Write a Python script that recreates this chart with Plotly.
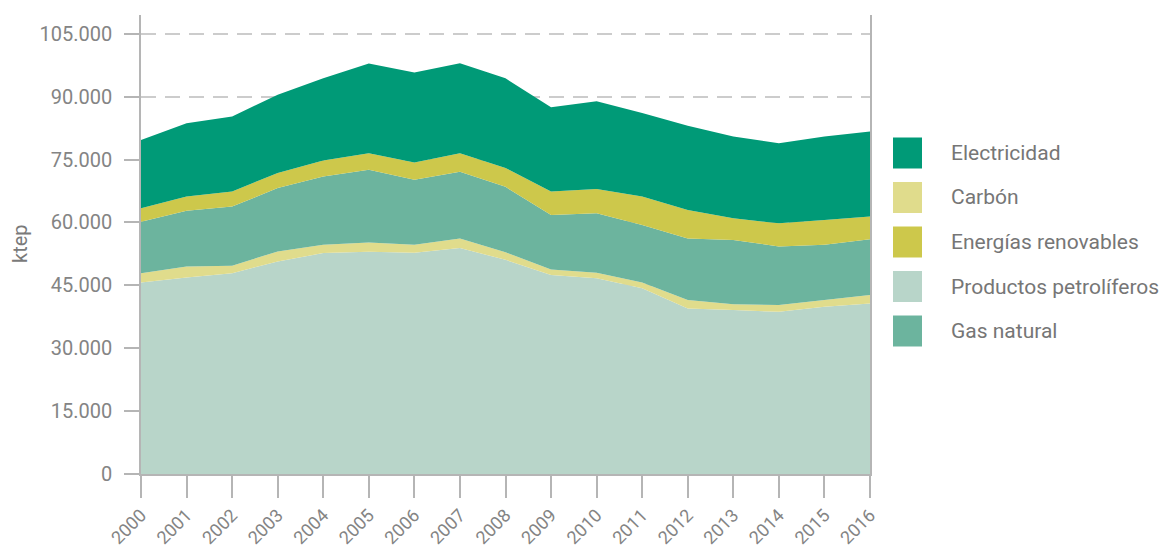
import plotly.graph_objects as go

years = list(range(2000, 2017))
petroliferos = [45700, 46900, 47900, 50700, 52700, 53000, 52800, 53900, 51100, 47500, 46700, 44300, 39500, 39100, 38700, 39900, 40700]
carbon = [2200, 2600, 1800, 2400, 2000, 2200, 1900, 2300, 1800, 1300, 1300, 1400, 2000, 1400, 1600, 1600, 2000]
gas_natural = [12300, 13300, 14100, 15100, 16300, 17400, 15500, 15900, 15600, 13000, 14200, 13700, 14700, 15300, 14000, 13200, 13300]
renovables = [3200, 3400, 3600, 3600, 3800, 3900, 4100, 4400, 4500, 5600, 5800, 6800, 6800, 5200, 5500, 5900, 5400]
electricidad = [16300, 17500, 17900, 18700, 19600, 21400, 21500, 21500, 21400, 20100, 20900, 19900, 20100, 19500, 19100, 19900, 20300]

y_ticks = [0, 15000, 30000, 45000, 60000, 75000, 90000, 105000]
y_tick_labels = ["0", "15.000", "30.000", "45.000", "60.000", "75.000", "90.000", "105.000"]

colors = {
    "Electricidad": "#009a77",
    "Carbón": "#e0dc8c",
    "Energías renovables": "#cdc84b",
    "Productos petrolíferos": "#b8d5c9",
    "Gas natural": "#6cb49e",
}

stack_order = [
    ("Productos petrolíferos", petroliferos),
    ("Carbón", carbon),
    ("Gas natural", gas_natural),
    ("Energías renovables", renovables),
    ("Electricidad", electricidad),
]
legend_order = ["Electricidad", "Carbón", "Energías renovables", "Productos petrolíferos", "Gas natural"]

FONT = "Roboto"
W, H = 1168, 557
L, R, T, B = 141, 870, 15, 474

fig = go.Figure()
for name, vals in stack_order:
    fig.add_trace(go.Scatter(
        x=years, y=vals, name=name, stackgroup="one", mode="none",
        fillcolor=colors[name], showlegend=False, hoverinfo="x+y+name",
    ))

def px_x(px):
    return (px - L) / (R - L)

def px_y(py):
    return (B - py) / (B - T)

shapes = []
annotations = []
row_centers = [153, 197.5, 242, 286.5, 331]
for name, cy in zip(legend_order, row_centers):
    shapes.append(dict(type="rect", xref="paper", yref="paper",
                       x0=px_x(893), x1=px_x(922), y0=px_y(cy - 15.5), y1=px_y(cy + 15.5),
                       fillcolor=colors[name], line=dict(width=0)))
    annotations.append(dict(xref="paper", yref="paper", x=px_x(949), y=px_y(cy),
                            text=name, showarrow=False, xanchor="left", yanchor="middle",
                            font=dict(family=FONT, size=21, color="#767676")))

annotations.append(dict(xref="paper", yref="paper", x=px_x(20), y=px_y(243),
                        text="ktep", showarrow=False, textangle=-90,
                        xanchor="center", yanchor="middle",
                        font=dict(family=FONT, size=20, color="#7a7a7a")))

fig.update_layout(
    width=W, height=H,
    margin=dict(l=L, r=W - R, t=T, b=H - B, pad=0, autoexpand=False),
    paper_bgcolor="white", plot_bgcolor="white",
    showlegend=False,
    shapes=shapes, annotations=annotations,
    xaxis=dict(
        range=[2000, 2016], tickmode="array", tickvals=years,
        ticktext=[str(y) for y in years], tickangle=-45,
        ticks="outside", ticklen=22, tickcolor="#b5b5b5", tickwidth=1.5,
        showline=True, linecolor="#b5b5b5", linewidth=1.5,
        showgrid=False, zeroline=False, ticklabelstandoff=0, automargin=False,
        tickfont=dict(family=FONT, size=18, color="#848484"),
    ),
    yaxis=dict(
        range=[0, 109500], tickmode="array", tickvals=y_ticks, ticktext=y_tick_labels,
        ticks="outside", ticklen=15, tickcolor="#b5b5b5", tickwidth=1.5,
        showline=True, linecolor="#b5b5b5", linewidth=1.5, mirror=True,
        showgrid=True, gridcolor="#cccccc", gridwidth=2, griddash="15px,9px",
        zeroline=False, ticklabelstandoff=8, automargin=False,
        tickfont=dict(family=FONT, size=20, color="#848484"),
    ),
)

fig.write_html("out.html")
